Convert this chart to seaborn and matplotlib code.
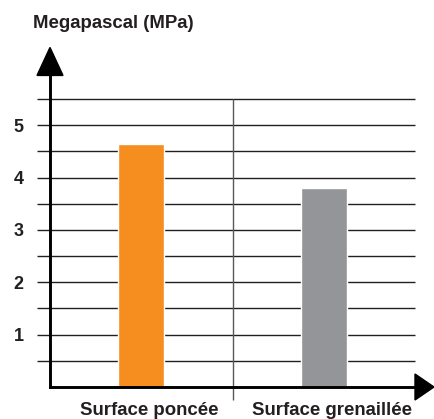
import matplotlib
matplotlib.use("Agg")
import matplotlib.pyplot as plt
import matplotlib.transforms as mtransforms
from matplotlib.patches import Polygon
import seaborn as sns
import pandas as pd

# ---- data ----
categories = ["Surface poncée", "Surface grenaillée"]
values = [4.65, 3.80]
bar_colors = ["#F58D1F", "#939598"]
ytick_values = [1, 2, 3, 4, 5]
ytick_labels = ["1", "2", "3", "4", "5"]
grid_levels = [0.5, 1.0, 1.5, 2.0, 2.5, 3.0, 3.5, 4.0, 4.5, 5.0, 5.5]
title = "Megapascal (MPa)"

sns.set_theme(style="white")
plt.rcParams["font.family"] = ["Liberation Sans", "DejaVu Sans"]

W, H = 434, 419
fig = plt.figure(figsize=(W / 100, H / 100), dpi=100)
ax = fig.add_axes([50 / W, (H - 387) / H, 365 / W, (387 - 99) / H])

df = pd.DataFrame({"cat": categories, "val": values})
sns.barplot(data=df, x="cat", y="val", hue="cat", palette=bar_colors,
            width=0.25, ax=ax, legend=False, zorder=3, saturation=1)

ax.set_xlim(-0.5, 1.5)
ax.set_ylim(0, 5.5)

# grid lines
ax.hlines(grid_levels, -0.571, 1.5, colors="#231f20", linewidth=1.0,
          zorder=1, clip_on=False)
# separator
ax.vlines([0.5], -0.24, 5.5, colors="#58595b", linewidth=1.0,
          zorder=1, clip_on=False)

# spines
for s in ["top", "right"]:
    ax.spines[s].set_visible(False)
for s in ["left", "bottom"]:
    ax.spines[s].set_color("black")
    ax.spines[s].set_linewidth(2.1)
    ax.spines[s].set_zorder(4)
ax.spines["left"].set_bounds(0, 5.95)

# arrow heads (data coords, out of axes)
xpx = 2.0 / 365  # x units per pixel
ypx = 5.5 / 288  # y units per pixel
up = Polygon([[-0.5 - 13 * xpx, 5.95], [-0.5 + 13 * xpx, 5.95], [-0.5, 5.95 + 28 * ypx]],
             closed=True, color="black", clip_on=False, zorder=5)
right = Polygon([[1.5, 13 * ypx], [1.5, -13 * ypx], [1.5 + 19 * xpx, 0]],
                closed=True, color="black", clip_on=False, zorder=5)
ax.add_patch(up)
ax.add_patch(right)

ax.set_yticks(ytick_values)
ax.set_yticklabels(ytick_labels, fontsize=13, fontweight="bold", color="#231f20")
ax.tick_params(axis="y", length=0, pad=19)
ax.set_xticks(range(len(categories)))
ax.set_xticklabels(categories, fontsize=13.4, fontweight="bold", color="#231f20")
ax.tick_params(axis="x", length=0, pad=11)
offset = mtransforms.ScaledTranslation(8 / 100, 0, fig.dpi_scale_trans)
for lab in ax.get_xticklabels():
    lab.set_transform(lab.get_transform() + offset)

ax.set_xlabel("")
ax.set_ylabel("")

fig.text(33 / W, 1 - 23 / H, title, fontsize=13.4, fontweight="bold",
         color="#231f20", ha="left", va="center")

fig.savefig("out.png", dpi=100, facecolor="white")
